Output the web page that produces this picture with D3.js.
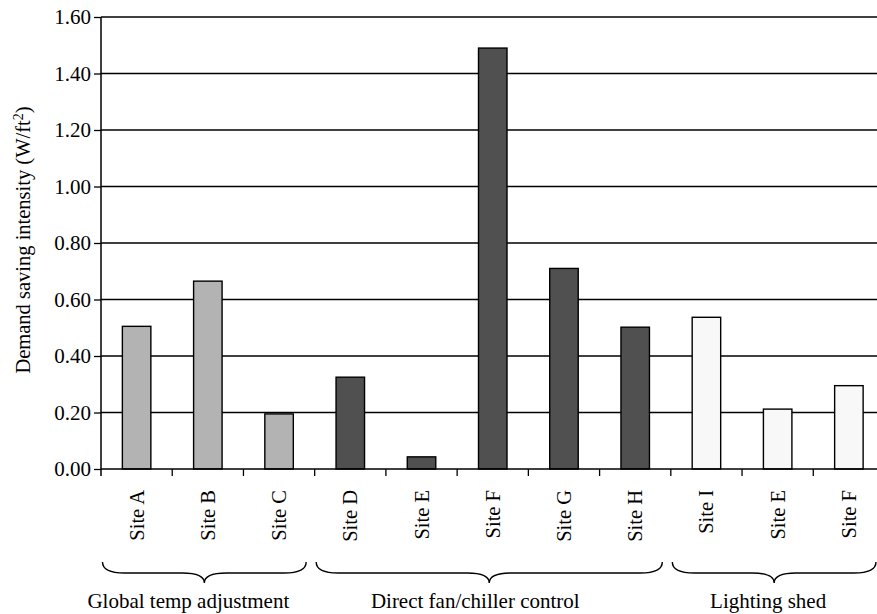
<!doctype html>
<meta charset="utf-8">
<style>
  body { margin: 0; background: #fff; }
  svg text { font-family: "Times New Roman", "Liberation Serif", Times, serif; }
  .grid line { stroke: #000; stroke-width: 1.3; }
  .bar { stroke: #000; stroke-width: 1.4; }
</style>
<svg id="chart" width="877" height="614"></svg>
<script src="https://d3js.org/d3.v7.min.js"></script>
<script>
  // data
  let siteLabels = ["Site A", "Site B", "Site C", "Site D", "Site E", "Site F", "Site G", "Site H", "Site I", "Site E", "Site F"];
  let siteGroups = [0, 0, 0, 1, 1, 1, 1, 1, 2, 2, 2];
  let savings = [0.505, 0.665, 0.195, 0.325, 0.043, 1.49, 0.71, 0.502, 0.537, 0.212, 0.295];
  let groupNames = ["Global temp adjustment", "Direct fan/chiller control", "Lighting shed"];
  let groupColours = ["#b3b3b3", "#505050", "#f8f8f8"];
  let yTicks = [0, 0.2, 0.4, 0.6, 0.8, 1.0, 1.2, 1.4, 1.6];

  let svg = d3.select("#chart");
  let plotLeft = 101, plotRight = 884.5, plotTop = 17, plotBottom = 469;
  // group captions sit a little left of the brace point
  let captionShift = [-16, -14, -6];

  let x = d3.scaleBand().domain(d3.range(siteLabels.length)).range([plotLeft, plotRight]);
  let y = d3.scaleLinear().domain([0, 1.6]).range([plotBottom, plotTop]);
  let barW = x.bandwidth() * 0.4;

  // gridlines
  svg.append("g").attr("class", "grid")
    .selectAll("line").data(yTicks.slice(1)).enter().append("line")
    .attr("x1", plotLeft).attr("x2", plotRight)
    .attr("y1", d => y(d)).attr("y2", d => y(d));

  // bars
  svg.selectAll("rect.bar").data(savings).enter().append("rect")
    .attr("class", "bar")
    .attr("x", (d, i) => x(i) + (x.bandwidth() - barW) / 2)
    .attr("y", d => y(d))
    .attr("width", barW)
    .attr("height", d => y(0) - y(d))
    .attr("fill", (d, i) => groupColours[siteGroups[i]]);

  // y axis
  let yAxis = d3.axisLeft(y).tickValues(yTicks).tickFormat(d3.format(".2f")).tickSize(7).tickPadding(3);
  let gy = svg.append("g").attr("transform", `translate(${plotLeft},0)`).call(yAxis)
    .attr("font-family", null);
  gy.select(".domain").remove();
  gy.selectAll(".tick line").attr("stroke", "#000").attr("stroke-width", 1.3);
  gy.selectAll("text").attr("font-size", 21).attr("fill", "#000");
  svg.append("line").attr("x1", plotLeft).attr("x2", plotLeft).attr("y1", plotTop).attr("y2", plotBottom + 7)
    .attr("stroke", "#000").attr("stroke-width", 1.5);

  // x axis line and boundary ticks
  svg.append("line").attr("x1", plotLeft).attr("x2", plotRight).attr("y1", plotBottom).attr("y2", plotBottom)
    .attr("stroke", "#000").attr("stroke-width", 1.5);
  svg.selectAll("line.xt").data(d3.range(1, siteLabels.length)).enter().append("line")
    .attr("x1", i => x(i)).attr("x2", i => x(i))
    .attr("y1", plotBottom).attr("y2", plotBottom + 7)
    .attr("stroke", "#000").attr("stroke-width", 1.3);

  // rotated site labels
  svg.selectAll("text.site").data(siteLabels).enter().append("text")
    .attr("class", "site")
    .attr("transform", (d, i) => `translate(${x(i) + x.bandwidth() / 2 + 7},490) rotate(-90)`)
    .attr("text-anchor", "end")
    .attr("font-size", 20.5)
    .text(d => d);

  // group braces
  let groupSpans = groupNames.map((g, k) => {
    let idx = d3.range(siteLabels.length).filter(i => siteGroups[i] === k);
    return { name: g, k: k, x0: x(idx[0]) + 1.5, x1: x(idx[idx.length - 1]) + x.bandwidth() - 8.5 };
  });
  function brace(x0, x1) {
    let y0 = 562, y1 = 573, y2 = 583, r = 22, m = (x0 + x1) / 2;
    return `M${x0},${y0} Q${x0},${y1} ${x0 + r},${y1} L${m - r},${y1} Q${m},${y1} ${m},${y2}` +
      ` Q${m},${y1} ${m + r},${y1} L${x1 - r},${y1} Q${x1},${y1} ${x1},${y0}`;
  }
  svg.selectAll("path.brace").data(groupSpans).enter().append("path")
    .attr("d", d => brace(d.x0, d.x1))
    .attr("fill", "none").attr("stroke", "#000").attr("stroke-width", 1.4);
  svg.selectAll("text.group").data(groupSpans).enter().append("text")
    .attr("x", d => (d.x0 + d.x1) / 2 + captionShift[d.k]).attr("y", 608)
    .attr("text-anchor", "middle").attr("font-size", 21)
    .text(d => d.name);

  // y axis title
  let title = svg.append("text")
    .attr("transform", `translate(30,${(plotTop + plotBottom) / 2 - 3}) rotate(-90)`)
    .attr("text-anchor", "middle").attr("font-size", 20.5);
  title.append("tspan").text("Demand saving intensity (W/ft");
  title.append("tspan").attr("baseline-shift", "super").attr("font-size", 14).text("2");
  title.append("tspan").text(")");
</script>
